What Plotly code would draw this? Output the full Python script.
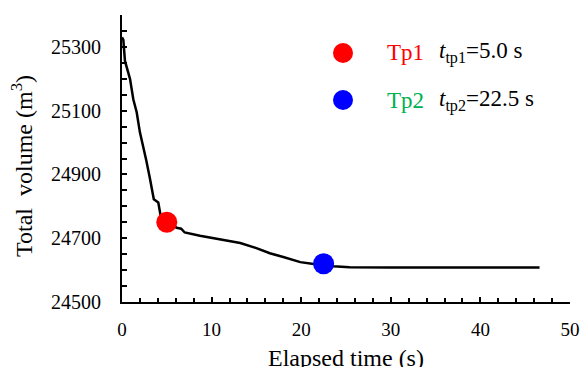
import plotly.graph_objects as go

# Total volume history
time_s = [0, 0.15, 0.33, 0.9, 1.26, 1.64, 2.0, 2.4, 2.7, 3.1, 3.4, 3.55, 4.05, 4.3,
          5.0, 6.1, 6.6, 7.0, 8.7, 10.2, 11.5, 13.2, 15.0, 16.5, 18.0, 19.9, 21.4,
          22.5, 23.6, 25.4, 30.0, 35.0, 40.0, 46.6]
volume_m3 = [25330, 25322, 25256, 25199, 25136, 25095, 25032, 24985, 24945, 24890, 24850,
             24822, 24812, 24772, 24750, 24733, 24730, 24718, 24708, 24700, 24695, 24685,
             24669, 24653, 24641, 24625, 24619, 24617, 24612, 24609, 24608, 24608, 24608,
             24608]

# Turning points
tp_names = ["Tp1", "Tp2"]
tp_time = [5.0, 22.5]
tp_volume = [24750, 24620]
tp_colors = ["#FF0000", "#0000FF"]
tp_label_colors = ["#FF0000", "#00B050"]
tp_subs = ["tp1", "tp2"]

y_ticks = [24500, 24700, 24900, 25100, 25300]
y_tick_text = [str(v) for v in y_ticks]

FONT = "Liberation Serif"

fig = go.Figure()
fig.add_trace(go.Scatter(x=time_s, y=volume_m3, mode="lines",
                         line=dict(color="black", width=2.5), showlegend=False))
fig.add_trace(go.Scatter(x=tp_time, y=tp_volume, mode="markers",
                         marker=dict(color=tp_colors, size=21), showlegend=False))

# Legend-style key: dot, name, time
key_y = [0.8676, 0.7038]
for i in range(2):
    fig.add_shape(type="circle", xref="paper", yref="paper",
                  xsizemode="pixel", ysizemode="pixel",
                  xanchor=0.4933, yanchor=key_y[i],
                  x0=-10, x1=10, y0=-10, y1=10,
                  fillcolor=tp_colors[i], line=dict(width=0))
    fig.add_annotation(xref="paper", yref="paper", x=0.587, y=key_y[i],
                       xanchor="left", yanchor="middle", showarrow=False,
                       text=tp_names[i],
                       font=dict(family=FONT, size=23, color=tp_label_colors[i]))
    fig.add_annotation(xref="paper", yref="paper", x=0.703, y=key_y[i],
                       xanchor="left", yanchor="middle", showarrow=False,
                       text=f"<i>t</i><sub>{tp_subs[i]}</sub>={tp_time[i]:.1f} s",
                       font=dict(family=FONT, size=23, color="black"))

# Axis titles
fig.add_annotation(xref="paper", yref="paper", x=0.5, y=-0.195,
                   xanchor="center", yanchor="middle", showarrow=False,
                   text="Elapsed time (s)",
                   font=dict(family=FONT, size=24, color="black"))
fig.add_annotation(xref="paper", yref="paper", x=-0.2232, y=0.474,
                   xanchor="center", yanchor="middle", showarrow=False, textangle=-90,
                   text="Total\u00a0 volume (m<sup>3</sup>)",
                   font=dict(family=FONT, size=24, color="black"))

fig.update_layout(
    width=583, height=367,
    margin=dict(l=122, r=13, t=15, b=65),
    plot_bgcolor="white", paper_bgcolor="white",
    font=dict(family=FONT, size=19, color="black"),
    xaxis=dict(range=[0, 50], dtick=10, tick0=0, showgrid=False, zeroline=False,
               automargin=False,
               showline=True, linecolor="black", linewidth=2,
               ticks="inside", ticklen=5, tickwidth=1.5, tickcolor="black",
               minor=dict(dtick=2, ticks="inside", ticklen=4, tickwidth=1.5,
                          tickcolor="black", showgrid=False),
               tickfont=dict(family=FONT, size=19, color="black"),
               ticklabelstandoff=9),
    yaxis=dict(range=[24500, 25400], tickmode="array", tickvals=y_ticks,
               ticktext=y_tick_text, automargin=False,
               showgrid=False, zeroline=False,
               showline=True, linecolor="black", linewidth=2,
               ticks="inside", ticklen=5, tickwidth=1.5, tickcolor="black",
               minor=dict(tickmode="linear", tick0=24500, dtick=50, ticks="inside",
                          ticklen=5, tickwidth=1.5, tickcolor="black", showgrid=False),
               tickfont=dict(family=FONT, size=20, color="black"), ticklabelstandoff=15),
)

fig.write_html("out.html")
